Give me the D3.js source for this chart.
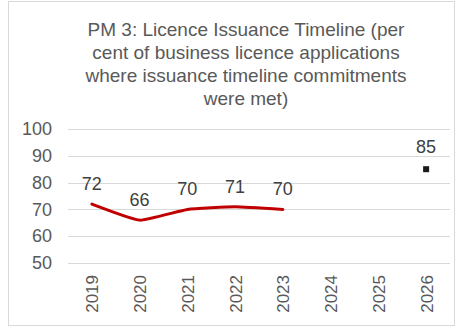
<!DOCTYPE html>
<html>
<head>
<meta charset="utf-8">
<script src="https://cdn.jsdelivr.net/npm/d3@7"></script>
<style>
  html, body { margin: 0; padding: 0; background: #fff; }
  svg { display: block; font-family: "Liberation Sans", Arial, sans-serif; }
</style>
</head>
<body>
<svg id="chart" width="458" height="329"></svg>
<script>
// Chart data
const years = ["2019", "2020", "2021", "2022", "2023", "2024", "2025", "2026"];
const actualYears = ["2019", "2020", "2021", "2022", "2023"];
const actualValues = [72, 66, 70, 71, 70];
const targetYears = ["2026"];
const targetValues = [85];
const yTicks = [50, 60, 70, 80, 90, 100];
const titleLines = [
  "PM 3: Licence Issuance Timeline (per",
  "cent of business licence applications",
  "where issuance timeline commitments",
  "were met)"
];

const svg = d3.select("#chart");
const W = 458, H = 329;

// Outer frame
svg.append("rect")
  .attr("x", 8.5).attr("y", 1.5)
  .attr("width", W - 12).attr("height", H - 5)
  .attr("fill", "#fff").attr("stroke", "#d9d9d9").attr("stroke-width", 1);

// Title
const title = svg.append("text")
  .attr("text-anchor", "middle")
  .attr("fill", "#595959")
  .attr("font-size", 19);
titleLines.forEach((t, i) => {
  title.append("tspan").attr("x", 246).attr("y", 36 + i * 23).text(t);
});

// Scales
const plot = { left: 68, right: 450, top: 129, bottom: 263 };
const x = d3.scalePoint().domain(years).range([plot.left, plot.right]).padding(0.5);
const y = d3.scaleLinear().domain([50, 100]).range([plot.bottom, plot.top]);

// Gridlines
svg.append("g")
  .selectAll("line")
  .data(yTicks)
  .join("line")
  .attr("x1", plot.left).attr("x2", plot.right)
  .attr("y1", d => Math.round(y(d)) + 0.5).attr("y2", d => Math.round(y(d)) + 0.5)
  .attr("stroke", "#d9d9d9").attr("stroke-width", 1);

// Y axis labels
const yAxis = d3.axisLeft(y).tickValues(yTicks).tickSize(0).tickPadding(0);
const yg = svg.append("g").attr("transform", `translate(${plot.left - 16},0)`).call(yAxis);
yg.select(".domain").remove();
yg.selectAll("text").attr("fill", "#595959").attr("font-size", 18)
  .attr("font-family", "Liberation Sans, Arial, sans-serif");

// X axis labels (rotated)
const xAxis = d3.axisBottom(x).tickSize(0).tickPadding(0);
const xg = svg.append("g").attr("transform", `translate(0,${plot.bottom + 12})`).call(xAxis);
xg.select(".domain").remove();
xg.selectAll("text")
  .attr("fill", "#595959").attr("font-size", 17)
  .attr("font-family", "Liberation Sans, Arial, sans-serif")
  .attr("transform", "rotate(-90)")
  .attr("text-anchor", "end")
  .attr("x", 0).attr("y", 0).attr("dy", "0.35em");

// Actual series line (lightly smoothed)
const actual = actualYears.map((yr, i) => ({ yr, v: actualValues[i] }));
const line = d3.line()
  .x(d => x(d.yr)).y(d => y(d.v))
  .curve(d3.curveCardinal.tension(0.6));
svg.append("path")
  .datum(actual)
  .attr("d", line)
  .attr("fill", "none")
  .attr("stroke", "#c00000")
  .attr("stroke-width", 3)
  .attr("stroke-linecap", "round");

// Actual value labels
svg.append("g").selectAll("text")
  .data(actual)
  .join("text")
  .attr("x", d => x(d.yr)).attr("y", d => y(d.v) - 14)
  .attr("text-anchor", "middle")
  .attr("fill", "#404040").attr("font-size", 18)
  .text(d => d.v);

// Target marker and label
const target = targetYears.map((yr, i) => ({ yr, v: targetValues[i] }));
svg.append("g").selectAll("rect")
  .data(target)
  .join("rect")
  .attr("x", d => x(d.yr) - 3).attr("y", d => y(d.v) - 3)
  .attr("width", 6).attr("height", 6)
  .attr("fill", "#1a1a1a");
svg.append("g").selectAll("text")
  .data(target)
  .join("text")
  .attr("x", d => x(d.yr)).attr("y", d => y(d.v) - 16)
  .attr("text-anchor", "middle")
  .attr("fill", "#404040").attr("font-size", 18)
  .text(d => d.v);
</script>
</body>
</html>
